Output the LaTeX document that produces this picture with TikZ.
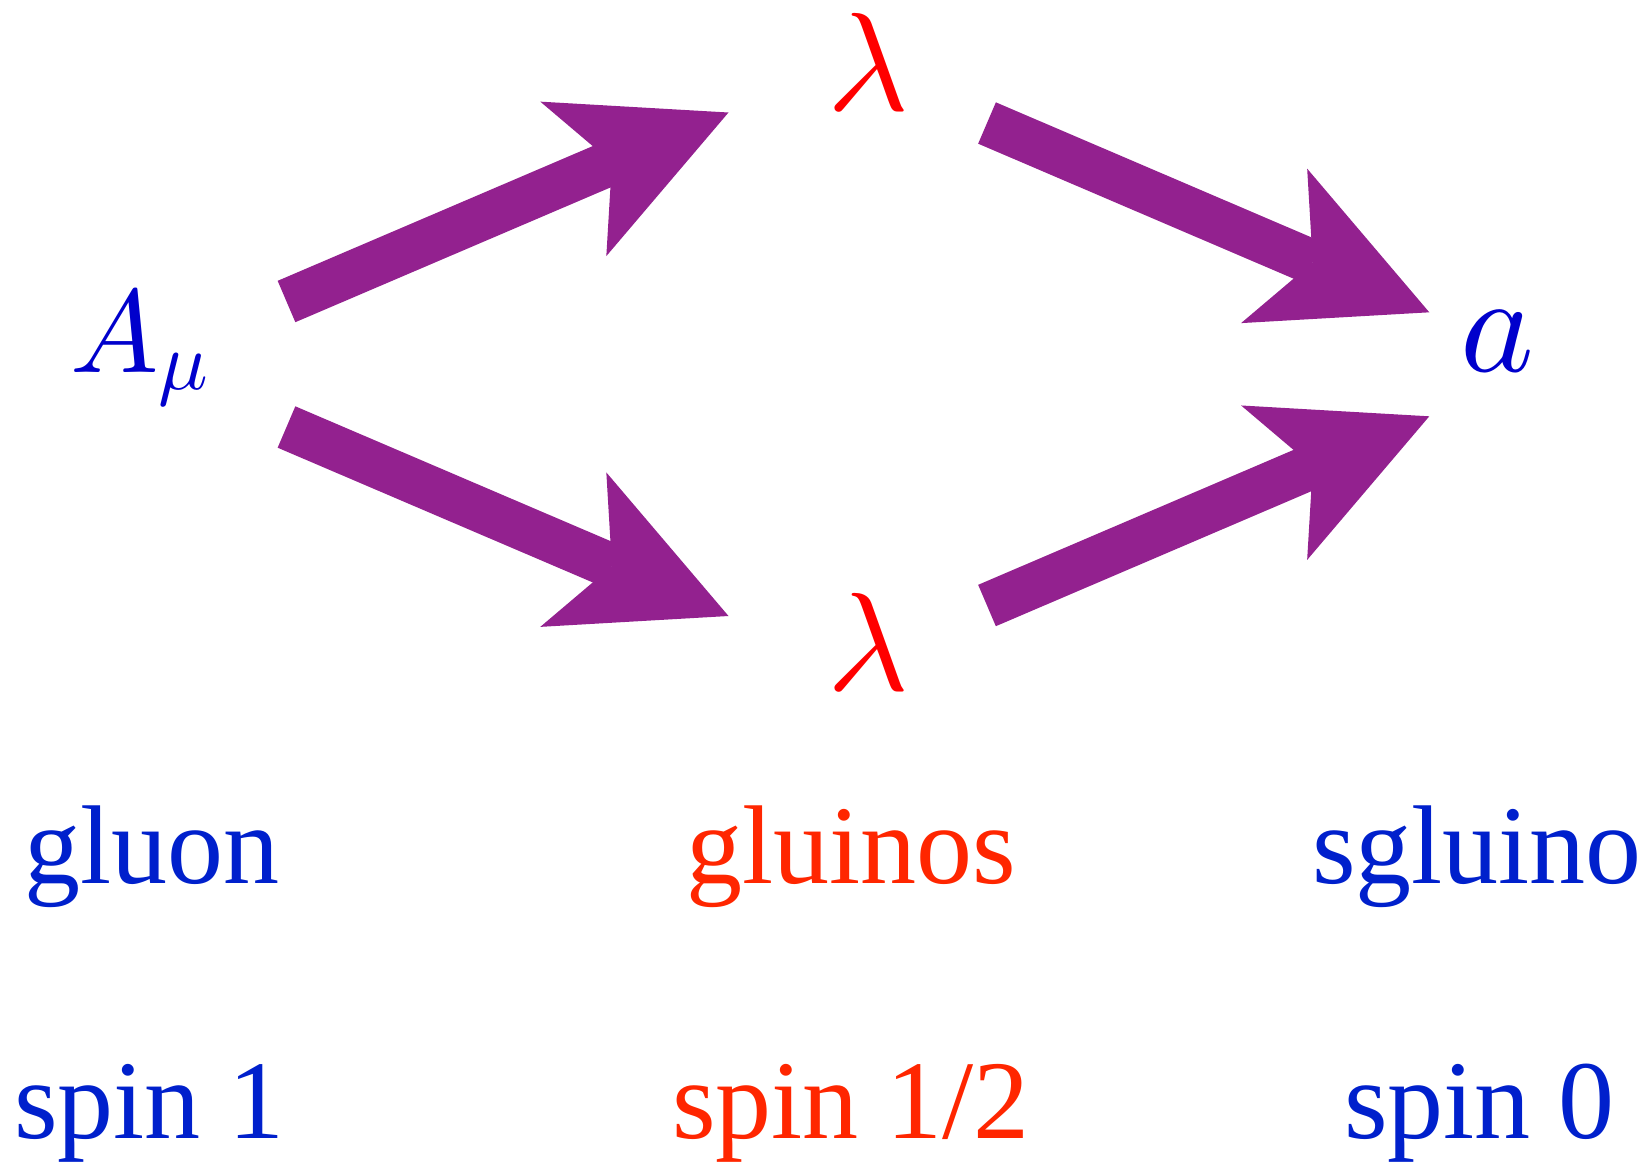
\RequirePackage{fix-cm}
\documentclass[tikz,border=0pt]{standalone}
\usepackage{fontspec}
\newfontfamily\tms{Liberation Serif}
\DeclareFontFamily{OML}{cmm}{\skewchar\font127 }
\DeclareFontShape{OML}{cmm}{m}{it}{<->cmmi10}{}
\usetikzlibrary{arrows.meta}
\definecolor{arrowpurple}{RGB}{147,33,143}
\definecolor{txtblue}{RGB}{0,32,204}
\definecolor{mathblue}{RGB}{0,0,204}
\definecolor{txtred}{RGB}{255,38,0}
\definecolor{mathred}{RGB}{255,0,0}
\tikzset{
  bigarrow/.style={draw=arrowpurple, line width=22.5pt, line cap=butt,
    -{Stealth[length=84.4pt, width=84pt, inset=21pt, line width=0pt 0, fill=arrowpurple]}},
  label/.style={font=\tms\fontsize{56pt}{60pt}\selectfont, inner sep=0pt, anchor=base},
  bigmath/.style={font=\fontsize{70pt}{80pt}\selectfont, inner sep=0pt, anchor=base},
  smallmath/.style={font=\fontsize{59pt}{66pt}\selectfont, inner sep=0pt, anchor=base west}
}
\begin{document}
\begin{tikzpicture}[x=0.5pt, y=-0.5pt]
\useasboundingbox (0,0) rectangle (1651,1164);
% particles
\node[smallmath, text=mathblue] (A) at (70,372) {$A_\mu$};
\node[bigmath, text=mathred] (lt) at (868,110) {$\lambda$};
\node[bigmath, text=mathred] (lb) at (868,690) {$\lambda$};
\node[bigmath, text=mathblue] (a) at (1497,371) {$a$};
% arrow end points
\coordinate (Aup) at (286.5,301.5);
\coordinate (Adn) at (286.5,427);
\coordinate (ltin) at (728.5,112.5);
\coordinate (lbin) at (728.5,616);
\coordinate (ltout) at (987,123);
\coordinate (lbout) at (987,605.5);
\coordinate (aup) at (1429.3,312.3);
\coordinate (adn) at (1429.3,416.3);
\draw[bigarrow] (Aup) -- (ltin);
\draw[bigarrow] (Adn) -- (lbin);
\draw[bigarrow] (ltout) -- (aup);
\draw[bigarrow] (lbout) -- (adn);
% labels
\node[label, text=txtblue] (gluon) at (152,883) {gluon};
\node[label, text=txtred] (gluinos) at (851,883) {gluinos};
\node[label, text=txtblue] (sgluino) at (1477,883) {sgluino};
\node[label, text=txtblue] (spin1) at (149.5,1138.5) {spin 1};
\node[label, text=txtred] (spinhalf) at (851,1138.5) {spin 1/2};
\node[label, text=txtblue] (spin0) at (1479.5,1138.5) {spin 0};
\end{tikzpicture}
\end{document}
